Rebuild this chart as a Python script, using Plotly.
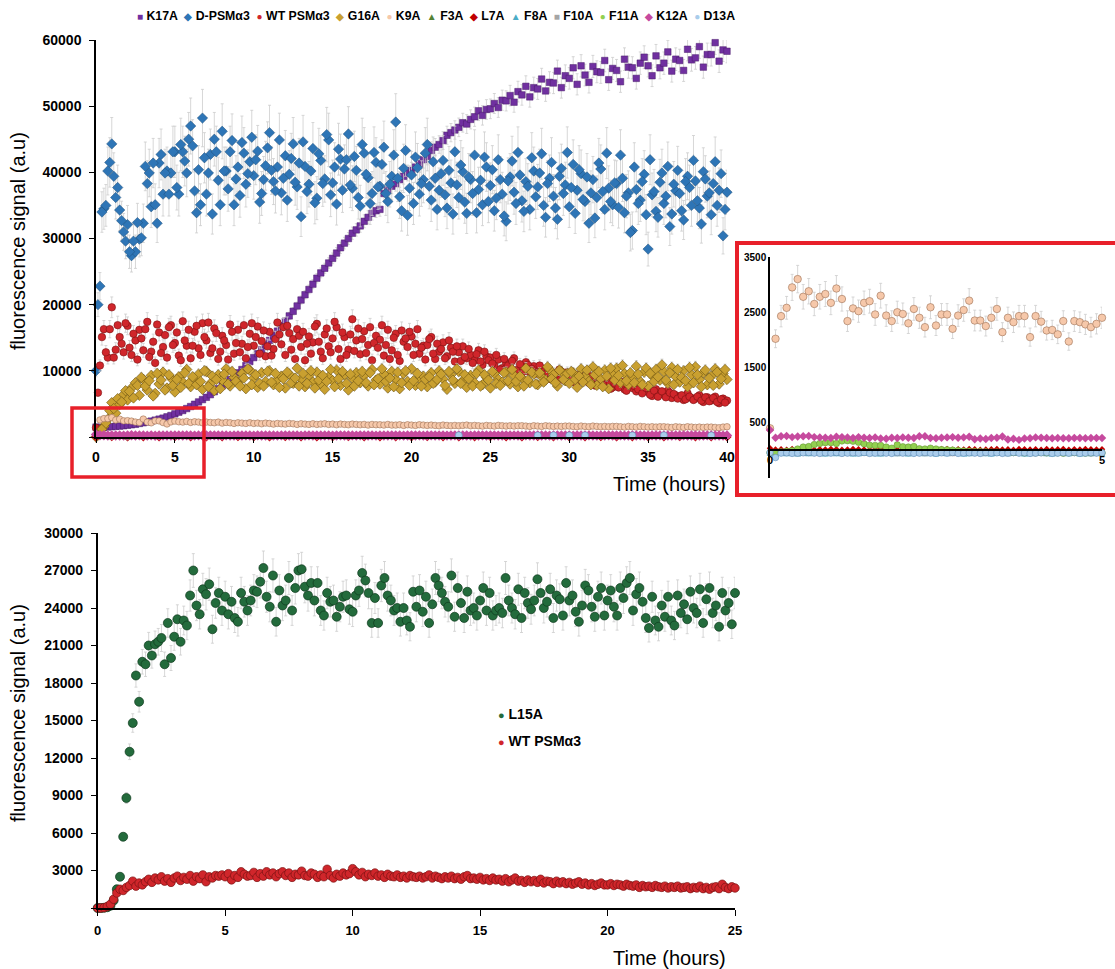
import plotly.graph_objects as go

# ---------------- time grids ----------------
HOURS_MAIN = [i * 0.25 for i in range(161)]          # 0 .. 40 h, every 15 min
HOURS_MID = [0.125 + i * 0.25 for i in range(160)]   # in-between readings
HOURS_MAIN_1H = [float(i) for i in range(41)]        # 0 .. 40 h, hourly
HOURS_INSET = [i / 12 for i in range(61)]            # 0 .. 5 h, every 5 min
HOURS_BOTTOM = [i * 0.125 for i in range(201)]       # 0 .. 25 h

SERIES_ORDER = ["K17A", "D-PSMα3", "WT PSMα3", "G16A", "K9A", "F3A", "L7A",
                "F8A", "F10A", "F11A", "K12A", "D13A"]

# ---------------- top panel values (a.u.) ----------------
K17A = [1500, 1450, 1480, 1520, 1560, 1600, 1650, 1700, 1780, 1850, 1920, 2050,
        2150, 2280, 2400, 2550, 2700, 2850, 3050, 3250, 3500, 3750, 4000, 4300,
        4600, 4950, 5300, 5650, 6000, 6400, 6850, 7300, 7750, 8250, 8700, 9200,
        9700, 10200, 10800, 11400, 12000, 12600, 13200, 13900, 14600, 15300, 16000, 16800,
        17500, 18300, 19000, 19800, 20700, 21500, 22300, 23100, 24000, 24800, 25500, 26300,
        27000, 27800, 28600, 29300, 30000, 30800, 31300, 31900, 32600, 33200, 33800, 34200,
        34400, 36800, 37300, 37900, 38300, 38900, 39400, 39900, 40300, 40800, 41300, 41900,
        42400, 43300, 43800, 44200, 44800, 45600, 46000, 46400, 46800, 47500, 47300, 48000,
        48400, 49300, 48600, 49500, 49600, 50400, 49800, 50900, 50800, 51600, 50600, 52200,
        51700, 53000, 51400, 52800, 52600, 54100, 52300, 53600, 53500, 55300, 52800, 54600,
        54200, 55800, 53300, 56100, 54700, 53600, 56000, 55200, 55100, 56900, 54000, 55700,
        55400, 53700, 57100, 55900, 55800, 54200, 56500, 57400, 56100, 54600, 57600, 55800,
        56500, 58200, 55300, 57100, 56900, 55400, 58600, 57000, 57300, 59000, 55900, 57800,
        57800, 59600, 56800, 58500, 58300]

D_PSM = [10000, 22800, 34500, 40200, 44300, 36200, 34300, 31000, 32100, 27400, 28000, 29900,
         32300, 38300, 34800, 35100, 41400, 36700, 40200, 39900, 43100, 36700, 43100, 39900,
         47000, 37200, 40400, 48200, 36700, 42700, 45000, 38800, 46200, 40200, 43100, 35100,
         40800, 44500, 38200, 41600, 39500, 43200, 36800, 41000, 46000, 38600, 40800, 36900,
         42500, 39700, 44300, 37800, 33300, 40900, 38200, 43600, 36100, 41800, 39000, 44900,
         38400, 35200, 42000, 40500, 45800, 37600, 40300, 34900, 42900, 39200, 36800, 41500,
         37900, 43800, 35600, 39400, 47600, 36300, 40600, 33500, 39600, 42300, 36700, 38900,
         44200, 35800, 39100, 37300, 41800, 34600, 38400, 43100, 36200, 40100, 33800, 38900,
         42600, 37400, 35100, 40800, 38000, 34200, 41900, 36700, 32600, 39300, 37000, 43000,
         35700, 38600, 34400, 40200, 37800, 42800, 33200, 39100, 36400, 32900, 40600, 38100,
         34800, 41200, 37300, 39800, 35600, 32300, 38900, 36200, 40500, 34400, 37600, 35100,
         38300, 42600, 33900, 36900, 31200, 37400, 35800, 39700, 28400, 36600, 34100, 38500,
         35300, 40900, 33700, 37200, 36800, 32800, 39400, 35000, 38700, 34600, 40100, 36400,
         33600, 41600, 37300, 30400, 37000]
D_PSM_MID = [20000, 34000, 35000, 41500, 39400, 37700, 32700, 29600, 28000, 29600, 32400, 30100,
             40900, 39900, 41400, 32300, 42700, 39900, 36700, 43100, 37700, 44200, 41700, 45000,
             44000, 33900, 35100, 42200, 39900, 33700, 43100, 35100, 40200, 37500, 44800, 39000,
             36500, 42900, 39800, 45300, 41900, 35500, 38900, 43700, 40300, 37200, 44900, 39100,
             35800, 42100, 38500, 41400, 44600, 37100, 40200, 35400, 42800, 38300, 45700, 36600,
             40800, 43500, 37300, 41900, 38100, 42400, 36200, 44200, 39700, 35300, 43000, 37800,
             41200, 36800, 38200, 42600, 39100, 34200, 43300, 37600, 35300, 40700, 38300, 42900,
             37900, 41600, 34400, 39800, 36600, 40300, 33700, 38100, 41100, 35500, 39300, 36800,
             33900, 38800, 42300, 35600, 40400, 36100, 38900, 33400, 38700, 41700, 35300, 39600,
             34100, 37900, 42200, 36300, 39900, 35000, 38300, 41500, 34600, 39400, 36800, 43000,
             37700, 33800, 40400, 35900, 39300, 36900, 33100, 41400, 37100, 42900, 35600, 38400,
             34700, 39100, 36400, 30900, 40800, 35300, 38600, 33600, 41900, 37100, 33200, 39900,
             36400, 31800, 38200, 40300, 34200, 38600, 37700, 41800, 35700, 32200, 39000, 36900,
             38300, 35000, 39800, 34400]

WT_TOP = [1400, 10800, 16300, 12000, 19600, 13200, 15100, 12800, 16800, 12400, 14600, 16200,
          13100, 17400, 12900, 11200, 15800, 13600, 12000, 16900, 14200, 12300, 17500, 13800,
          11900, 15900, 13400, 17200, 14600, 12700, 16400, 11800, 15300, 13900, 17000, 12600,
          16200, 14100, 11900, 15600, 13800, 16700, 14500, 12200, 15900, 13300, 17300, 14000,
          12400, 15700, 14800, 16300, 13600, 11600, 15200, 14300, 17100, 12900, 15500, 13700,
          14900, 16600, 11800, 15100, 13200, 17800, 14600, 12500, 16000, 13900, 11600, 15300,
          14700, 12300, 16200, 13100, 15600, 11500, 14400, 13600, 15200, 14100, 12600, 13800,
          13900, 15100, 11800, 12900, 14300, 12200, 13500, 11400, 12800, 13700, 11900, 12400,
          11600, 13100, 10900, 12200, 12000, 10800, 11700, 10400, 11200, 10600, 11900, 9900,
          10500, 11300, 9800, 10700, 9600, 10400, 8800, 10100, 9700, 8900, 9900, 9300,
          8800, 9600, 8400, 9200, 9000, 8200, 8700, 7900, 8500, 7700, 8300, 7500,
          7900, 8400, 7200, 7700, 7400, 6900, 7800, 7100, 6800, 6200, 7200, 6500,
          6400, 7000, 5900, 6300, 6100, 5600, 6600, 5900, 5800, 6300, 5300, 6000,
          5500, 6100, 5100, 5800, 5500]
WT_TOP_MID = [6700, 15100, 12800, 16300, 12000, 16900, 14100, 17200, 13500, 15600, 11700, 14900,
              16300, 12100, 14400, 17000, 12700, 15400, 16600, 13900, 15800, 11600, 14600, 16200,
              13800, 16800, 12400, 15100, 17300, 13400, 15700, 12900, 14600, 11700, 15900, 14200,
              12800, 16900, 13600, 17200, 15100, 12600, 16100, 13700, 12300, 14800, 15500, 16600,
              16800, 13200, 11800, 15300, 15900, 14100, 12600, 16700, 14400, 11900, 16400, 12800,
              17400, 13300, 15800, 12400, 15500, 13000, 16400, 14800, 12700, 16600, 14200, 13500,
              16900, 13900, 11800, 15000, 12400, 16100, 14900, 15900, 12400, 16300, 13500, 11700,
              14800, 12600, 14100, 13300, 11900, 14600, 12900, 13700, 11500, 12100, 13300, 11200,
              12500, 11400, 12900, 11600, 11100, 12400, 10200, 11800, 10800, 11500, 10100, 11000,
              9900, 10900, 10300, 9600, 10800, 9200, 9800, 8700, 9500, 10200, 8600, 9800,
              9200, 8200, 9400, 8700, 8400, 9200, 7800, 8600, 8000, 8900, 7300, 8100,
              7500, 8100, 7000, 7800, 7700, 7200, 6600, 7400, 6400, 7000, 6100, 6900,
              6000, 6700, 6500, 5800, 6300, 5700, 6100, 5600, 6100, 5500, 6000, 5400,
              5900, 5300, 5700, 5200]

G16A = [0, 800, 1600, 2700, 5200, 3600, 4900, 6400, 5600, 7400, 8200, 6300,
        8700, 7100, 9300, 6600, 8000, 9800, 7400, 8900, 6800, 9100, 8300, 10200,
        7600, 8800, 9500, 7200, 9900, 8100, 7000, 9400, 8600, 10300, 7700, 9000,
        8200, 9600, 7300, 10100, 8900, 7500, 9700, 8400, 10000, 7900, 8700, 9200,
        7400, 9500, 8100, 10400, 8800, 7600, 9300, 8300, 9800, 8000, 7200, 9100,
        8500, 10100, 7800, 9400, 7100, 8900, 9700, 8200, 9300, 7700, 10200, 8600,
        8000, 9500, 7400, 9900, 8700, 7300, 9600, 8400, 10300, 7800, 8900, 9200,
        7600, 9700, 8300, 10000, 8800, 7200, 9400, 8100, 9900, 8500, 7500, 9300,
        8200, 10100, 7900, 9000, 7400, 9600, 8700, 8300, 9800, 8000, 9300, 7600,
        8900, 10400, 8200, 9500, 7900, 9100, 8600, 10200, 9400, 7700, 9900, 8500,
        8100, 9700, 7500, 10300, 9200, 8400, 10600, 7800, 8800, 10100, 7300, 9500,
        10400, 8200, 9600, 7900, 9000, 10700, 8400, 9800, 7700, 9300, 10200, 8600,
        9900, 8100, 10500, 9100, 8300, 10000, 7600, 9400, 10600, 8700, 9700, 7900,
        9200, 10300, 8000, 9600, 8700]
G16A_MID = [300, 1200, 2100, 4000, 4300, 5800, 5300, 7000, 6900, 5900, 7800, 9000,
            7700, 8500, 6200, 9600, 8600, 7100, 9400, 7800, 8700, 7500, 9700, 8100,
            9100, 7900, 8400, 10000, 7600, 9200, 8700, 7300, 9500, 8000, 9900, 8400,
            7700, 8900, 10300, 7900, 9400, 8100, 7700, 9900, 8300, 9600, 7500, 8800,
            9800, 8200, 8900, 7700, 9600, 8100, 10000, 7400, 8600, 9300, 8400, 10200,
            7600, 8800, 9900, 8100, 9500, 7700, 8500, 9900, 8200, 9700, 7900, 8800,
            10300, 8400, 8900, 7600, 9800, 8200, 10000, 7800, 8500, 9600, 7700, 8700,
            9100, 8100, 8700, 9500, 7800, 9900, 8600, 10300, 8100, 9400, 8800, 7700,
            9600, 7700, 9400, 8600, 9900, 8100, 7800, 9700, 8500, 10200, 8400, 9200,
            7700, 8600, 9800, 8000, 9700, 8300, 10600, 8800, 8200, 10100, 8700, 9600,
            9900, 8700, 9200, 8300, 10100, 7900, 9400, 9900, 7600, 9200, 10400, 8600,
            9300, 10800, 8500, 9700, 8200, 9500, 7900, 10400, 9600, 8400, 9100, 10900,
            8600, 9700, 7900, 10200, 9000, 8500, 10500, 8200, 9400, 7600, 10100, 8900,
            7800, 9800, 8800, 10200]

K9A_TOP = [400, 2580, 2780, 2780, 2930, 2570, 2700, 2440, 2470, 2400, 2260, 2200,
           2710, 2250, 2140, 2430, 2430, 2180, 1970, 2280, 2400, 2300, 2250, 2350,
           2200, 2300, 2250, 2150, 2250, 2200, 2150, 2250, 2100, 2200, 2150, 2050,
           2150, 2100, 2050, 2150, 2050, 2100, 2000, 2100, 2050, 1950, 2050, 2000,
           1950, 2050, 2000, 1900, 2000, 1950, 1900, 2000, 1900, 1950, 2000, 1900,
           1950, 1850, 1950, 1900, 1850, 1950, 1900, 1850, 1900, 1800, 1900, 1850,
           1850, 1800, 1900, 1800, 1800, 1850, 1750, 1850, 1800, 1750, 1850, 1800,
           1750, 1800, 1750, 1700, 1800, 1750, 1700, 1750, 1700, 1750, 1800, 1700,
           1750, 1700, 1650, 1750, 1700, 1650, 1750, 1700, 1650, 1700, 1650, 1700,
           1700, 1650, 1600, 1700, 1650, 1600, 1700, 1650, 1600, 1650, 1600, 1650,
           1650, 1600, 1550, 1650, 1600, 1550, 1650, 1600, 1550, 1600, 1550, 1600,
           1600, 1550, 1500, 1600, 1550, 1500, 1600, 1550, 1500, 1550, 1500, 1550,
           1550, 1500, 1450, 1550, 1500, 1450, 1550, 1500, 1450, 1500, 1450, 1500,
           1500, 1450, 1400, 1500, 1550]

K12A_TOP = [370, 260, 255, 235, 245, 225, 225, 210, 235, 255, 220, 240, 245, 205, 250, 190,
            235, 220, 220, 220, 225,
            240, 220, 250, 230, 210, 240, 230, 220, 250, 240,
            220, 230, 240, 210, 230, 250, 220, 240, 230, 210,
            250, 230, 220, 240, 230, 210, 240, 250, 220, 230,
            240, 210, 230, 250, 220, 240, 230, 220, 240, 210,
            230, 250, 220, 230, 240, 210, 250, 230, 220, 240,
            210, 240, 230, 220, 250, 230, 240, 210, 230, 250,
            220, 240, 210, 230, 250, 220, 230, 240, 210, 230,
            250, 220, 240, 230, 210, 240, 230, 250, 220, 230,
            240, 210, 230, 250, 220, 240, 230, 210, 240, 220,
            230, 250, 220, 240, 210, 230, 250, 220, 240, 230,
            210, 240, 230, 220, 250, 230, 210, 240, 230, 250,
            220, 230, 240, 210, 230, 250, 220, 240, 230, 210,
            240, 230, 250, 220, 230, 210, 240, 230, 250, 220,
            230, 240, 210, 230, 250, 220, 240, 230, 210, 240]

# hourly series that sit on the baseline of the top panel
F3A_TOP = [-40, -50, -30, -45, -35, -50, -40, -30, -45, -55, -40, -35, -50, -40, -30, -45,
           -50, -35, -40, -45, -30, -50, -40, -35, -45, -55, -40, -30, -50, -45, -35, -40,
           -50, -30, -45, -40, -35, -50, -45, -40, -35]
L7A_TOP = [20, 30, 10, 25, 15, 30, 20, 10, 25, 35, 20, 15, 30, 20, 10, 25, 30, 15, 20, 25,
           10, 30, 20, 15, 25, 35, 20, 10, 30, 25, 15, 20, 30, 10, 25, 20, 15, 30, 25, 20, 15]
F8A_TOP = [-70, -80, -60, -75, -65, -80, -70, -60, -75, -85, -70, -65, -80, -70, -60, -75,
           -80, -65, -70, -75, -60, -80, -70, -65, -75, -85, -70, -60, -80, -75, -65, -70,
           -80, -60, -75, -70, -65, -80, -75, -70, -65]
F10A_TOP = [-50, -60, -45, -55, -50, -40, -55, -60, -45, -50, -55, -45, -60, -50, -40, -55,
            -50, -45, -60, -55, -45, -50, -60, -40, -55, -50, -45, -55, -60, -50, -45, -55,
            -50, -40, -55, -60, -45, -50, -55, -45, -50]
F11A_TOP = [-40, 125, 65, -15, -45, -45, -40, -35, -40, -45, -40, -35, -45, -40, -35, -40,
            -45, -40, -35, -40, -45, -40, -35, -40, -45, -40, -35, -40, -45, -40, -35, -40,
            -45, -40, -35, -40, -45, -40, -35, -40, -45]
D13A_TOP = [None] * 23 + [250, None, None, None, None, 240, 250, 240, 250, None, None,
                          240, None, 250, None, None, 240, None]

# ---------------- inset (0-5 h) values ----------------
K9A_INSET = [400, 2020, 2430, 2580, 2950, 3100, 2780, 2880, 2650, 2780, 2830, 2670, 2930,
             2740, 2340, 2570, 2520, 2670, 2700, 2460, 2800, 2440, 2340, 2500, 2470, 2300,
             2560, 2400, 2230, 2590, 2260, 2460, 2460, 2200, 2440, 2540, 2710, 2350, 2350,
             2250, 2400, 2560, 2140, 2400, 2320, 2430, 2430, 2050, 2430, 2330, 2170, 2180,
             2100, 2340, 1970, 2340, 2320, 2280, 2230, 2290, 2400]
K12A_INSET = [370, 230, 255, 260, 240, 250, 255, 260, 240, 235, 230, 225, 245, 240, 235, 225,
              240, 230, 225, 235, 215, 210, 230, 225, 235, 230, 225, 255, 255, 225, 220, 230,
              235, 240, 230, 235, 245, 200, 215, 205, 225, 230, 250, 195, 210, 190, 215, 220,
              235, 230, 225, 220, 225, 220, 220, 225, 225, 220, 225, 225, 225]
F11A_INSET = [-40, -35, -25, -15, 0, 25, 60, 70, 105, 125, 140, 140, 125, 170, 175, 165,
              145, 120, 95, 90, 90, 60, 40, 100, 65, 60, 70, 30, 25, 40, 25, 15, 10, 5, 0,
              -10, -15, -20, -20, -25, -30, -30, -35, -35, -40, -40, -45, -40, -45, -40,
              -45, -40, -45, -50, -45, -40, -45, -50, -45, -40, -45]
F3A_INSET = [-30, -45, -40, -35, -45, -50, -40, -35, -45, -40, -50, -35, -40, -45, -30, -40,
             -50, -45, -35, -40, -45, -40, -50, -35, -40, -45, -30, -40, -50, -45, -35, -40,
             -45, -50, -40, -35, -45, -40, -30, -45, -50, -40, -35, -45, -40, -50, -45, -35,
             -40, -45, -40, -50, -45, -35, -40, -45, -50, -40, -35, -45, -40]
L7A_INSET = [40, 15, 20, 10, 25, 15, 20, 25, 10, 20, 15, 25, 20, 10, 15, 25, 20, 15, 10, 20,
             25, 15, 20, 10, 25, 20, 15, 20, 10, 25, 15, 20, 25, 10, 20, 15, 25, 20, 10, 15,
             20, 25, 15, 20, 10, 25, 20, 15, 20, 10, 25, 15, 20, 25, 10, 20, 15, 25, 20, 15, 20]
F8A_INSET = [-70, -90, -75, -80, -70, -85, -75, -80, -70, -75, -85, -70, -80, -75, -70, -85,
             -80, -75, -70, -80, -85, -75, -70, -80, -75, -85, -70, -75, -80, -70, -85, -75,
             -80, -70, -75, -85, -80, -70, -75, -80, -85, -75, -70, -80, -75, -70, -85, -80,
             -75, -70, -80, -85, -75, -70, -80, -75, -85, -70, -80, -75, -80]
F10A_INSET = [-50, -60, -55, -45, -55, -60, -50, -45, -55, -60, -50, -55, -45, -60, -50, -55,
              -45, -50, -60, -55, -50, -45, -55, -60, -50, -55, -45, -50, -60, -55, -50, -45,
              -55, -60, -50, -55, -45, -50, -60, -55, -50, -45, -55, -60, -50, -55, -45, -50,
              -60, -55, -50, -45, -55, -60, -50, -55, -45, -50, -60, -55, -50]
D13A_INSET = [-40, -130, -50, -45, -55, -50, -45, -40, -50, -55, -45, -50, -40, -55, -50, -45,
              -50, -40, -55, -50, -45, -50, -55, -40, -50, -45, -55, -50, -40, -50, -55, -45,
              -50, -40, -55, -50, -45, -50, -55, -40, -50, -45, -55, -50, -40, -50, -45, -55,
              -50, -45, -40, -55, -50, -45, -50, -40, -55, -50, -45, -50, -45]

# ---------------- bottom panel values ----------------
L15A = [0, 0, 20, 60, 180, 600, 1500, 2500,
        5700, 8800, 12500, 14800, 18600, 16500, 19700, 19500,
        21000, 20200, 21100, 21300, 21600, 19500, 22800, 20000,
        21700, 23100, 21300, 23000, 22600, 25000, 27000, 24200,
        23500, 25500, 25100, 25900, 22300, 24400, 25200, 23800,
        24900, 23500, 24500, 23200, 22900, 25200, 24500, 23800,
        24600, 25400, 25300, 26100, 27200, 24900, 24100, 26600,
        22900, 25400, 24200, 24600, 26400, 23800, 25600, 27000,
        27100, 25700, 25000, 26000, 24600, 26000, 23800, 23400,
        25200, 24500, 24600, 23300, 24100, 24900, 25000, 23900,
        23700, 25000, 25400, 26800, 26200, 25200, 22800, 24800,
        22800, 25800, 26400, 25000, 24600, 23800, 24000, 22900,
        24000, 23000, 22500, 25300, 24100, 25400, 23700, 24900,
        22800, 24300, 26400, 25800, 25200, 24500, 24100, 26600,
        23300, 25600, 24400, 23200, 25300, 23800, 24000, 23400,
        24600, 25600, 23800, 25200, 23400, 23800, 24000, 23600,
        26400, 24600, 24000, 23500, 25500, 23200, 25200, 24400,
        23900, 24600, 26300, 25200, 24000, 24500, 25500, 23200,
        25000, 24700, 23400, 26000, 24600, 25000, 23700, 22900,
        24200, 25800, 25400, 24100, 23300, 24900, 25600, 23400,
        24600, 25400, 24100, 23400, 25600, 24800, 26000, 26400,
        23800, 25100, 25600, 24500, 23200, 22400, 24900, 23000,
        22500, 24200, 23300, 24900, 23000, 22600, 25000, 23600,
        24300, 23100, 25300, 24000, 23600, 25500, 22800, 24700,
        25600, 23600, 24200, 22500, 25200, 23800, 24400, 22700,
        25200]

WT_BOTTOM = [0, 0, 30, 120, 300, 700, 1200, 1500,
             1400, 1650, 1800, 2150, 1750, 2000, 1850, 2100,
             2300, 2050, 2400, 2250, 2500, 2150, 2350, 2050,
             2400, 2550, 2200, 2450, 2300, 2600, 2150, 2500,
             2350, 2650, 2100, 2500, 2400, 2600, 2550, 2650,
             2500, 2750, 2250, 2600, 2450, 2900, 2700, 2550,
             2600, 2850, 2450, 2750, 2550, 2900, 2650, 2800,
             2500, 2750, 2900, 2600, 2800, 2450, 2700, 2650,
             2950, 2600, 2550, 2800, 2700, 2450, 2650, 2500,
             3100, 2600, 2400, 2700, 2550, 2800, 2650, 2750,
             3150, 2900, 2650, 2850, 2500, 2700, 2600, 2800,
             2550, 2650, 2450, 2700, 2550, 2500, 2650, 2450,
             2550, 2400, 2600, 2500, 2450, 2550, 2400, 2500,
             2650, 2400, 2550, 2450, 2350, 2500, 2400, 2550,
             2350, 2450, 2300, 2500, 2600, 2350, 2400, 2300,
             2450, 2250, 2350, 2200, 2400, 2250, 2300, 2150,
             2350, 2100, 2250, 2400, 2150, 2200, 2050, 2250,
             2100, 2200, 2050, 2300, 2000, 2150, 2100, 1950,
             2150, 2000, 2100, 1950, 2050, 1900, 2000, 2100,
             1900, 2000, 1850, 1950, 1800, 1900, 2000, 1850,
             1850, 1950, 1800, 1900, 1850, 1750, 1900, 1800,
             1750, 1850, 1650, 1800, 1700, 1750, 1650, 1800,
             1700, 1650, 1750, 1600, 1700, 1650, 1750, 1600,
             1650, 1700, 1550, 1650, 1600, 1750, 1550, 1650,
             1500, 1650, 1700, 1550, 1900, 1650, 1550, 1700,
             1600]

MAIN_TICKS_Y = [0, 10000, 20000, 30000, 40000, 50000, 60000]
MAIN_TICKS_X = [0, 5, 10, 15, 20, 25, 30, 35, 40]
INSET_TICKS_Y = [500, 1500, 2500, 3500]
INSET_TICKS_X = [0, 5]
BOTTOM_TICKS_Y = [0, 3000, 6000, 9000, 12000, 15000, 18000, 21000, 24000, 27000, 30000]
BOTTOM_TICKS_X = [0, 5, 10, 15, 20, 25]

# ---------------- styles ----------------
STYLE = {
    "K17A": dict(symbol="square", size=6.5, color="#7030A0", line=dict(color="#4A1D6B", width=0.5)),
    "D-PSMα3": dict(symbol="diamond", size=8, color="#2E75B6", line=dict(color="#1F4E79", width=0.5)),
    "WT PSMα3": dict(symbol="circle", size=7.5, color="#D0262B", line=dict(color="#7A1212", width=0.6)),
    "G16A": dict(symbol="diamond", size=8, color="#C9A030", line=dict(color="#6B5210", width=0.6)),
    "K9A": dict(symbol="circle", size=6.5, color="#F6C8AA", line=dict(color="#9C7055", width=0.6)),
    "F3A": dict(symbol="triangle-up", size=7, color="#548235", line=dict(width=0)),
    "L7A": dict(symbol="diamond", size=7, color="#C00000", line=dict(width=0)),
    "F8A": dict(symbol="triangle-up", size=7, color="#4BACC6", line=dict(width=0)),
    "F10A": dict(symbol="square", size=6, color="#A5A5A5", line=dict(width=0)),
    "F11A": dict(symbol="circle", size=7, color="#92D050", line=dict(color="#5E8F2C", width=0.5)),
    "K12A": dict(symbol="diamond", size=8, color="#C64A9E", line=dict(width=0)),
    "D13A": dict(symbol="circle", size=7, color="#A9CCEB", line=dict(color="#5F8DB8", width=0.6)),
}
LEGEND_GLYPH = {"K17A": "■", "D-PSMα3": "◆", "WT PSMα3": "●", "G16A": "◆", "K9A": "●",
                "F3A": "▲", "L7A": "◆", "F8A": "▲", "F10A": "■", "F11A": "●",
                "K12A": "◆", "D13A": "●"}
ERR_PCT = {"K17A": 3, "D-PSMα3": 9, "WT PSMα3": 8, "G16A": 8, "K9A": 5}

FONT = "Liberation Sans, Arial, sans-serif"
W, H = 1115, 969


def px(x):
    return x / W


def py(y):
    return 1 - y / H


def err(p):
    return dict(type="percent", value=p, color="#CDCDCD", thickness=0.8, width=1.5)


fig = go.Figure()


def add(xs, ys, name, xa, ya, size=None, err_pct=None):
    st = dict(STYLE[name])
    if size is not None:
        st["size"] = size
    kw = {}
    if err_pct:
        kw["error_y"] = err(err_pct)
    fig.add_trace(go.Scatter(x=xs[:len(ys)], y=ys, mode="markers", name=name,
                             marker=st, xaxis=xa, yaxis=ya, cliponaxis=False,
                             showlegend=False, hoverinfo="skip", **kw))


# top panel (draw order as in the legend)
top = [("K17A", HOURS_MAIN, K17A),
       ("D-PSMα3", HOURS_MAIN + HOURS_MID, D_PSM + D_PSM_MID),
       ("WT PSMα3", HOURS_MAIN + HOURS_MID, WT_TOP + WT_TOP_MID),
       ("G16A", HOURS_MAIN + HOURS_MID, G16A + G16A_MID),
       ("K9A", HOURS_MAIN, K9A_TOP), ("F3A", HOURS_MAIN_1H, F3A_TOP),
       ("L7A", HOURS_MAIN_1H, L7A_TOP), ("F8A", HOURS_MAIN_1H, F8A_TOP),
       ("F10A", HOURS_MAIN_1H, F10A_TOP), ("F11A", HOURS_MAIN_1H, F11A_TOP),
       ("K12A", HOURS_MAIN, K12A_TOP), ("D13A", HOURS_MAIN_1H, D13A_TOP)]
for name, xs, ys in top:
    add(xs, ys, name, "x", "y", err_pct=ERR_PCT.get(name))

# inset
inset = [("K9A", K9A_INSET, 7.5), ("F3A", F3A_INSET, 6), ("L7A", L7A_INSET, 5),
         ("F8A", F8A_INSET, 6), ("F10A", F10A_INSET, 5), ("F11A", F11A_INSET, 6.5),
         ("K12A", K12A_INSET, 6.5), ("D13A", D13A_INSET, 6.5)]
for name, ys, sz in inset:
    add(HOURS_INSET, ys, name, "x2", "y2", size=sz, err_pct=8 if name == "K9A" else None)

# bottom panel
fig.add_trace(go.Scatter(x=HOURS_BOTTOM[:len(L15A)], y=L15A, mode="markers", name="L15A",
                         marker=dict(symbol="circle", size=9, color="#236B3C",
                                     line=dict(color="#0F3A1D", width=0.7)),
                         error_y=err(5), xaxis="x3", yaxis="y3", cliponaxis=False,
                         showlegend=False, hoverinfo="skip"))
fig.add_trace(go.Scatter(x=HOURS_BOTTOM[:len(WT_BOTTOM)], y=WT_BOTTOM, mode="markers",
                         name="WT PSMα3 ", marker=dict(symbol="circle", size=8.5, color="#D0262B",
                                                       line=dict(color="#7A1212", width=0.7)),
                         error_y=err(6), xaxis="x3", yaxis="y3", cliponaxis=False,
                         showlegend=False, hoverinfo="skip"))

tickfont = dict(family=FONT, size=14, color="black", weight="bold")
axcommon = dict(showgrid=False, zeroline=False, showline=True, linecolor="black",
                linewidth=1.5, tickcolor="black", tickwidth=1, tickmode="array",
                automargin=False)

# inset geometry
iy0, iy1 = py(478), py(257)
inset_zero = iy0 + (0 - (-500)) / 4000 * (iy1 - iy0)

fig.update_layout(
    width=W, height=H, autosize=False,
    margin=dict(l=0, r=0, t=0, b=0, pad=0, autoexpand=False),
    paper_bgcolor="white", plot_bgcolor="white", showlegend=False,
    xaxis=dict(domain=[px(96), px(727)], range=[0, 40], anchor="y",
               tickvals=MAIN_TICKS_X, ticktext=[str(v) for v in MAIN_TICKS_X],
               ticks="outside", ticklen=4, tickfont=tickfont, ticklabelstandoff=2, **axcommon),
    yaxis=dict(domain=[py(437), py(40)], range=[0, 60000], anchor="x",
               tickvals=MAIN_TICKS_Y, ticktext=[""] + [str(v) for v in MAIN_TICKS_Y[1:]],
               ticks="outside", ticklen=5, tickfont=tickfont, ticklabelstandoff=5, **axcommon),
    xaxis2=dict(domain=[px(770), px(1102)], range=[0, 5], anchor="free", position=inset_zero,
                tickvals=INSET_TICKS_X, ticktext=[str(v) for v in INSET_TICKS_X], ticks="",
                tickfont=dict(family=FONT, size=11, color="black", weight="bold"), **axcommon),
    yaxis2=dict(domain=[iy0, iy1], range=[-500, 3500], anchor="x2",
                tickvals=INSET_TICKS_Y, ticktext=[str(v) for v in INSET_TICKS_Y], ticks="",
                tickfont=dict(family=FONT, size=10, color="black", weight="bold"), **axcommon),
    xaxis3=dict(domain=[px(97.7), px(735)], range=[0, 25], anchor="y3",
                tickvals=BOTTOM_TICKS_X, ticktext=[str(v) for v in BOTTOM_TICKS_X],
                ticks="outside", ticklen=6, tickfont=dict(family=FONT, size=13, color="black", weight="bold"),
                ticklabelstandoff=4, **axcommon),
    yaxis3=dict(domain=[py(908), py(533)], range=[0, 30000], anchor="x3",
                tickvals=BOTTOM_TICKS_Y, ticktext=[""] + [str(v) for v in BOTTOM_TICKS_Y[1:]],
                ticks="outside", ticklen=5, tickfont=tickfont, ticklabelstandoff=5, **axcommon),
)

# legend (top) as text
parts = []
for n in SERIES_ORDER:
    c = STYLE[n]["color"]
    parts.append(f'<span style="color:{c};font-size:10px">{LEGEND_GLYPH[n]}</span> {n}')
legend_text = "  ".join(parts)

ann = [
    dict(text=legend_text, x=px(436), y=py(16), xanchor="center", yanchor="middle",
         font=dict(family=FONT, size=12.3, color="black", weight="bold")),
    dict(text="fluorescence signal (a.u)", x=px(18), y=py(241), textangle=-90,
         xanchor="center", yanchor="middle", font=dict(family=FONT, size=20, color="black")),
    dict(text="Time (hours)", x=px(728), y=py(484), xanchor="right", yanchor="middle",
         font=dict(family=FONT, size=20, color="black")),
    dict(text="fluorescence signal (a.u)", x=px(18), y=py(713), textangle=-90,
         xanchor="center", yanchor="middle", font=dict(family=FONT, size=20, color="black")),
    dict(text="Time (hours)", x=px(728), y=py(958), xanchor="right", yanchor="middle",
         font=dict(family=FONT, size=20, color="black")),
    dict(text='<span style="color:#236B3C;font-size:11px">●</span> L15A', x=px(496), y=py(714),
         xanchor="left", yanchor="middle", font=dict(family=FONT, size=14, color="black", weight="bold")),
    dict(text='<span style="color:#D0262B;font-size:11px">●</span> WT PSMα3', x=px(496), y=py(741),
         xanchor="left", yanchor="middle", font=dict(family=FONT, size=14, color="black", weight="bold")),
]
for a in ann:
    a.update(xref="paper", yref="paper", showarrow=False)
fig.update_layout(annotations=ann)

fig.update_layout(shapes=[
    dict(type="rect", xref="paper", yref="paper", x0=px(72), x1=px(204), y0=py(477), y1=py(408),
         line=dict(color="#E8202A", width=3.5), fillcolor="rgba(0,0,0,0)"),
    dict(type="rect", xref="paper", yref="paper", x0=px(737), x1=px(1120), y0=py(495), y1=py(243),
         line=dict(color="#E8202A", width=4), fillcolor="rgba(0,0,0,0)"),
])

PAGE_JS = (
    "var s=document.documentElement.style;s.margin='0';s.padding='0';s.overflow='hidden';"
    "var b=document.body.style;b.margin='0';b.padding='0';b.overflow='hidden';"
    "var d=document.getElementById('{plot_id}');"
    "d.style.position='fixed';d.style.left='0px';d.style.top='0px';"
)
fig.write_html("out.html", config={"displayModeBar": False}, post_script=PAGE_JS)
